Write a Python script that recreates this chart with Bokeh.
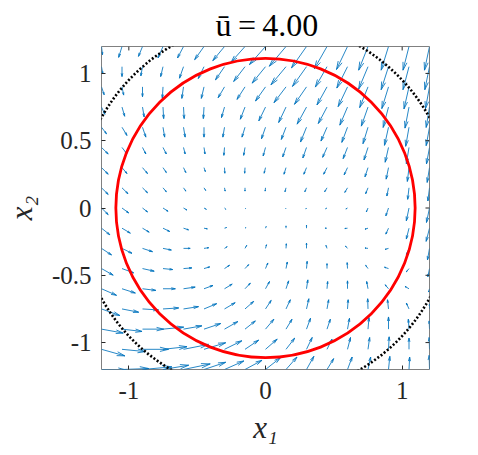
import numpy as np
from bokeh.plotting import figure
from bokeh.models import Range1d, FixedTicker
from bokeh.embed import file_html
from bokeh.resources import INLINE

# grid of the vector field (x1 across, x2 from top to bottom)
x_grid = [-1.2, -1.05, -0.9, -0.75, -0.6, -0.45, -0.3, -0.15, 0.0,
          0.15, 0.3, 0.45, 0.6, 0.75, 0.9, 1.05, 1.2]
y_grid = [1.2, 1.05, 0.9, 0.75, 0.6, 0.45, 0.3, 0.15, 0.0,
          -0.15, -0.3, -0.45, -0.6, -0.75, -0.9, -1.05, -1.2]

# field components (arbitrary units), one row per y value
U_rows = [
    [3, -10, -12, -15, -18, -28, -35, -42, -48, -50, -45, -38, -33, -28, -22, -18, -15],
    [4, 0, -5, -7, -12, -17, -27, -34, -40, -45, -42, -35, -32, -28, -22, -18, -14],
    [8, 5, 0, -2, -5, -8, -19, -24, -30, -36, -36, -30, -28, -25, -20, -15, -12],
    [10, 8, 5, 2, 2, -2, -9, -14, -20, -22, -28, -26, -23, -20, -16, -12, -10],
    [15, 15, 10, 5, 5, 0, -5, -9, -12, -14, -18, -18, -17, -15, -12, -10, -10],
    [20, 15, 10, 10, 5, 3, -2, -4, -7, -10, -11, -13, -13, -12, -10, -8, -9],
    [20, 15, 15, 10, 7, 4, 1, -1, -4, -6, -8, -10, -10, -9, -7, -5, -7],
    [20, 18, 15, 10, 7, 5, 2, 0, -1, -3, -5, -7, -8, -7, -5, -4, -5],
    [20, 20, 15, 15, 10, 7, 4, 2, 0, -1, -2, -4, -5, -5, -8, -8, -9],
    [25, 25, 20, 20, 15, 10, 6, 3, 2, 0, 0, -6, -8, -9, -8, -8, -10],
    [30, 30, 30, 25, 20, 14, 8, 5, 3, 1, 0, -3, -6, -9, -10, -8, -6],
    [35, 35, 35, 29, 25, 17, 15, 11, 7, 4, 2, 0, -1, -7, -12, -8, -5],
    [45, 40, 40, 37, 35, 27, 23, 16, 12, 8, 4, 2, 0, -4, -10, -12, -3],
    [55, 50, 48, 47, 45, 38, 32, 26, 17, 13, 7, 5, 2, -1, -3, -8, 0],
    [65, 60, 63, 62, 55, 50, 40, 31, 25, 18, 12, 10, 6, 3, 0, -2, -1],
    [70, 70, 78, 72, 75, 65, 52, 41, 35, 26, 17, 15, 9, 5, 2, 0, -1],
    [75, 80, 88, 77, 80, 65, 58, 51, 45, 33, 22, 20, 14, 8, 4, 2, -1],
]
V_rows = [
    [-25, -33, -30, -35, -35, -40, -43, -48, -55, -60, -65, -68, -70, -72, -72, -72, -72],
    [-22, -30, -28, -30, -35, -36, -40, -45, -50, -55, -60, -62, -65, -68, -70, -70, -70],
    [-24, -25, -30, -35, -35, -35, -33, -38, -43, -48, -53, -55, -60, -63, -66, -67, -66],
    [-22, -28, -30, -35, -35, -35, -32, -37, -42, -47, -52, -50, -55, -58, -62, -64, -62],
    [-20, -25, -30, -30, -30, -30, -30, -30, -35, -37, -45, -42, -46, -50, -55, -58, -56],
    [-20, -20, -20, -20, -20, -20, -24, -24, -26, -29, -32, -30, -34, -38, -45, -50, -50],
    [-20, -18, -18, -15, -15, -12, -17, -17, -17, -20, -20, -20, -22, -28, -35, -42, -45],
    [-20, -18, -15, -12, -10, -8, -10, -10, -10, -12, -12, -12, -14, -18, -25, -35, -40],
    [-20, -15, -12, -10, -6, -4, -4, -2, 0, -2, -3, -2, -3, -12, -24, -39, -44],
    [-20, -15, -12, -10, -5, -2, 2, 2, 5, 7, 9, 0, -1, -3, -18, -33, -40],
    [-20, -15, -10, -5, 0, 2, 5, 9, 11, 14, 16, 9, 7, 1, -3, -20, -35],
    [-20, -13, -8, -3, 2, 5, 10, 12, 17, 20, 22, 15, 18, 10, 4, -10, -25],
    [-20, -13, -5, 0, 5, 10, 14, 17, 22, 24, 27, 22, 24, 22, 12, 7, -10],
    [-20, -10, -3, 3, 7, 16, 19, 23, 26, 28, 31, 28, 28, 31, 28, 18, 15],
    [-12, -7, 0, 6, 10, 17, 23, 25, 30, 30, 33, 30, 33, 35, 37, 30, 25],
    [-20, -7, 0, 8, 15, 20, 26, 28, 31, 34, 36, 31, 36, 36, 38, 34, 36],
    [-2, 3, 8, 13, 17, 22, 26, 28, 36, 38, 40, 33, 38, 38, 40, 38, 43],
]

r_estimate = 1.095      # red circle
r_level = 1.37          # dotted black circle
u_bar = 4.00
x_ticks = [-1, 0, 1]
y_ticks = [-1, -0.5, 0, 0.5, 1]
x_tick_labels = {-1: "-1", 0: "0", 1: "1"}
y_tick_labels = {-1: "-1", -0.5: "-0.5", 0: "0", 0.5: "0.5", 1: "1"}

ARROW_SCALE = 1 / 409.5
HEAD_ALPHA, HEAD_BETA = 0.33, 0.25
LO, HI = -1.2, 1.2
TICK_LEN = 4 / 136.5

p = figure(width=470, height=447, x_range=Range1d(LO, HI), y_range=Range1d(LO, HI),
           output_backend="svg", toolbar_location=None,
           min_border_left=101, min_border_right=41, min_border_top=46, min_border_bottom=73)
p.xgrid.visible = False
p.ygrid.visible = False
p.outline_line_color = "#808080"
p.outline_line_width = 1
p.background_fill_color = "white"
p.border_fill_color = "white"

# quiver
X, Y = np.meshgrid(np.array(x_grid), np.array(y_grid))
U = np.array(U_rows, dtype=float) * ARROW_SCALE
V = np.array(V_rows, dtype=float) * ARROW_SCALE
m = np.hypot(U, V) > 1e-12
x0, y0, u, v = X[m], Y[m], U[m], V[m]
x1, y1 = x0 + u, y0 + v
hx1 = x1 - HEAD_ALPHA * (u + HEAD_BETA * v)
hy1 = y1 - HEAD_ALPHA * (v - HEAD_BETA * u)
hx2 = x1 - HEAD_ALPHA * (u - HEAD_BETA * v)
hy2 = y1 - HEAD_ALPHA * (v + HEAD_BETA * u)
qc = "#0072BD"
p.segment(x0, y0, x1, y1, line_color=qc, line_width=0.85)
p.segment(x1, y1, hx1, hy1, line_color=qc, line_width=0.85)
p.segment(x1, y1, hx2, hy2, line_color=qc, line_width=0.85)

# circles
p.circle(x=[0], y=[0], radius=r_level, fill_color=None, line_color="black",
         line_width=2.6, line_dash="2 2")
p.circle(x=[0], y=[0], radius=r_estimate, fill_color=None, line_color="#FF0000",
         line_width=2.8)

font = "Liberation Serif"
tc = "#262626"
for ax, ticks, labels in ((p.xaxis[0], x_ticks, x_tick_labels), (p.yaxis[0], y_ticks, y_tick_labels)):
    ax.ticker = FixedTicker(ticks=ticks)
    ax.major_label_overrides = labels
    ax.major_label_text_font = font
    ax.major_label_text_font_size = "25px"
    ax.major_label_text_color = tc
    ax.major_tick_in = 4
    ax.major_tick_out = 0
    ax.minor_tick_in = 0
    ax.minor_tick_out = 0
    ax.axis_line_color = None
    ax.major_tick_line_color = tc
    ax.axis_label_text_font = font
    ax.axis_label_text_font_style = "italic"
    ax.axis_label_text_font_size = "31px"
    ax.axis_label_text_color = tc
p.xaxis.major_label_standoff = 12
p.yaxis.major_label_standoff = 10
p.xaxis.axis_label = "x₁"
p.yaxis.axis_label = "x₂"
p.xaxis.axis_label_standoff = 8
p.yaxis.axis_label_standoff = 10

# ticks mirrored on the top and right sides of the box
p.segment(x_ticks, [HI] * len(x_ticks), x_ticks, [HI - TICK_LEN] * len(x_ticks),
          line_color=tc, line_width=1)
p.segment([HI] * len(y_ticks), y_ticks, [HI - TICK_LEN] * len(y_ticks), y_ticks,
          line_color=tc, line_width=1)

# title
p.title.text = "ū\u2009=\u2009%.2f" % u_bar
p.title.align = "left"
p.title.offset = 114
p.title.text_font = "Liberation Serif"
p.title.text_font_size = "32px"
p.title.text_font_style = "normal"
p.title.text_color = "black"
p.title.standoff = 8

open("out.html", "w").write(file_html(p, INLINE))
